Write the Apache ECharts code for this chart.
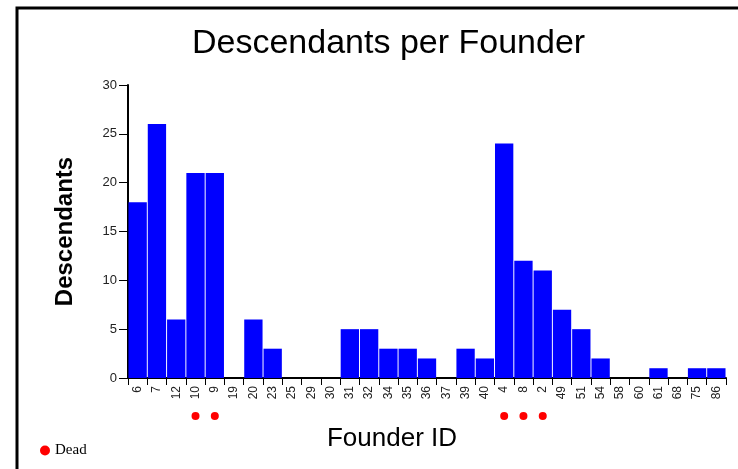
<!DOCTYPE html>
<html><head><meta charset="utf-8">
<script src="https://cdn.jsdelivr.net/npm/echarts@6/dist/echarts.min.js"></script>
<style>html,body{margin:0;padding:0;background:#fff}#c{width:738px;height:469px}</style>
</head><body><div id="c"></div>
<script>
const founders = ['6','7','12','10','9','19','20','23','25','29','30','31','32','34','35','36','37','39','40','4','8','2','49','51','54','58','60','61','68','75','86'];
const descendants = [18,26,6,21,21,0,6,3,0,0,0,5,5,3,3,2,0,3,2,24,12,11,7,5,2,0,0,1,0,1,1];
const deadFounders = ['10','9','4','8','2'];
const deadMarkerLevel = -3.9;
const yTicks = {min:0, max:30, interval:5};

const chart = echarts.init(document.getElementById('c'), null, {renderer:'canvas'});
chart.setOption({
  animation:false,
  backgroundColor:'#fff',
  title:{text:'Descendants per Founder', left:192, top:27, padding:0,
    textStyle:{fontFamily:'Liberation Sans, Arial', fontSize:34, fontWeight:'normal', color:'#000'}},
  grid:{left:128, right:12, top:85, bottom:91, containLabel:false},
  legend:{data:[{name:'Dead', icon:'circle'}], left:35, top:438, itemWidth:10, itemHeight:10, itemGap:6,
    textStyle:{fontFamily:'Liberation Serif, Times New Roman', fontSize:15, color:'#000'}},
  xAxis:{type:'category', data:founders,
    name:'Founder ID', nameLocation:'middle', nameGap:48,
    nameTextStyle:{fontFamily:'Liberation Sans, Arial', fontSize:26, color:'#000', padding:[0,0,0,-70]},
    axisLine:{lineStyle:{color:'#000', width:2}},
    axisTick:{show:true, length:7, alignWithLabel:false, lineStyle:{color:'#000'}},
    axisLabel:{rotate:90, interval:0, margin:8, fontFamily:'Liberation Sans, Arial', fontSize:12, color:'#222'}},
  yAxis:{type:'value', min:yTicks.min, max:yTicks.max, interval:yTicks.interval,
    name:'Descendants', nameLocation:'middle', nameGap:51,
    nameTextStyle:{fontFamily:'Liberation Sans, Arial', fontSize:24, fontWeight:'bold', color:'#000'},
    splitLine:{show:false},
    axisLine:{show:true, lineStyle:{color:'#000', width:2}},
    axisTick:{show:true, length:9, lineStyle:{color:'#000'}},
    axisLabel:{margin:11, fontFamily:'Liberation Sans Narrow, Liberation Sans, Arial', fontSize:13, color:'#222'}},
  series:[
    {type:'bar', name:'Descendants', data:descendants, barCategoryGap:'5%',
     itemStyle:{color:'#0000ff'}},
    {type:'scatter', name:'Dead', clip:false, symbol:'circle', symbolSize:8,
     itemStyle:{color:'#ff0000', opacity:1},
     data:deadFounders.map(f=>[f, deadMarkerLevel])}
  ],
  graphic:[
    {type:'polyline', shape:{points:[[17,480],[17,8],[745,8]]}, style:{stroke:'#000', lineWidth:3, fill:null}}
  ]
});
</script></body></html>
